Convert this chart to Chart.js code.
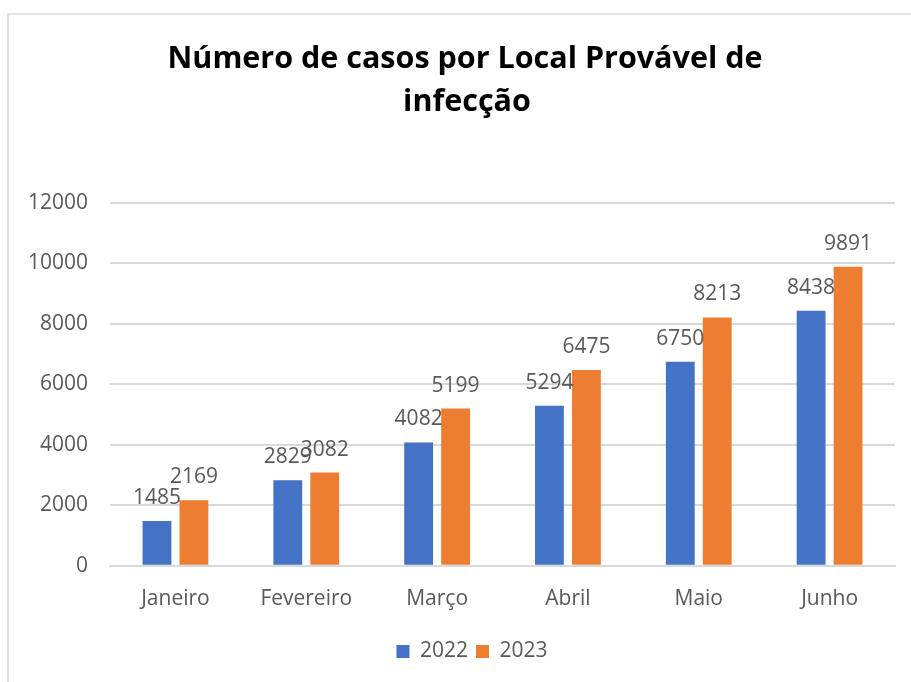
<!DOCTYPE html>
<html>
<head>
<meta charset="utf-8">
<script src="https://cdn.jsdelivr.net/npm/chart.js@4.4.0/dist/chart.umd.min.js"></script>
<style>
  html, body { margin: 0; padding: 0; background: #ffffff; }
  #wrap { position: absolute; left: 0; top: 0; width: 911px; height: 682px; }
  #frame { position: absolute; left: 7px; top: 13px; width: 904px; height: 669px;
           border-left: 2px solid #e3e3e3; border-top: 2px solid #e3e3e3; box-sizing: border-box; }
</style>
</head>
<body>
<div id="wrap"><canvas id="c" width="911" height="682"></canvas></div>
<div id="frame"></div>
<script>
const categories = ["Janeiro", "Fevereiro", "Março", "Abril", "Maio", "Junho"];
const values2022 = [1485, 2829, 4082, 5294, 6750, 8438];
const values2023 = [2169, 3082, 5199, 6475, 8213, 9891];
const seriesNames = ["2022", "2023"];
const yTicks = [0, 2000, 4000, 6000, 8000, 10000, 12000];
const titleLines = ["Número de casos por Local Provável de", "infecção"];

const FONT = "'Open Sans', 'Liberation Sans', sans-serif";
const GREY = "#595959";
const LEGEND_CENTER_X = 472;

const dataLabels = {
  id: 'dataLabels',
  afterDatasetsDraw(chart) {
    const ctx = chart.ctx;
    ctx.save();
    ctx.font = "21px " + FONT;
    ctx.fillStyle = GREY;
    ctx.textAlign = 'center';
    ctx.textBaseline = 'alphabetic';
    chart.data.datasets.forEach((ds, i) => {
      chart.getDatasetMeta(i).data.forEach((bar, j) => {
        ctx.fillText(String(ds.data[j]), bar.x, bar.y - 17);
      });
    });
    ctx.restore();
  }
};

const titleDraw = {
  id: 'titleDraw',
  afterDraw(chart) {
    const ctx = chart.ctx;
    ctx.save();
    ctx.font = "bold 30.5px " + FONT;
    ctx.fillStyle = '#000000';
    ctx.textAlign = 'center';
    ctx.textBaseline = 'alphabetic';
    ctx.fillText(titleLines[0], 465, 68);
    ctx.fillText(titleLines[1], 467, 111);
    ctx.restore();
  }
};

const legendShift = {
  id: 'legendShift',
  afterLayout(chart) {
    const lg = chart.legend;
    if (!lg) return;
    const d = LEGEND_CENTER_X - (lg.left + lg.right) / 2;
    lg.left += d; lg.right += d;
  }
};

new Chart(document.getElementById('c'), {
  type: 'bar',
  data: {
    labels: categories,
    datasets: [
      { label: seriesNames[0], data: values2022, backgroundColor: '#4472C4', borderWidth: 0 },
      { label: seriesNames[1], data: values2023, backgroundColor: '#ED7D31', borderWidth: 0 }
    ]
  },
  options: {
    responsive: false,
    animation: false,
    devicePixelRatio: 1,
    categoryPercentage: 0.565,
    barPercentage: 0.78,
    layout: { padding: { left: 6, right: 16, top: 203, bottom: 10 } },
    plugins: {
      title: { display: false },
      legend: {
        position: 'bottom',
        labels: {
          color: GREY,
          font: { family: FONT, size: 21 },
          boxWidth: 13, boxHeight: 13,
          padding: 8
        }
      },
      tooltip: { enabled: false }
    },
    scales: {
      x: {
        grid: { display: false, drawTicks: false },
        border: { display: true, color: '#d9d9d9', width: 2 },
        ticks: { color: GREY, font: { family: FONT, size: 21 }, padding: 21 }
      },
      y: {
        min: 0, max: 12000,
        afterBuildTicks(axis) { axis.ticks = yTicks.map(v => ({ value: v })); },
        grid: { color: '#d9d9d9', lineWidth: 2, drawTicks: false },
        border: { display: false },
        ticks: { color: GREY, font: { family: FONT, size: 21 }, padding: 22,
                 callback: (v) => String(v) }
      }
    }
  },
  plugins: [dataLabels, titleDraw, legendShift]
});
</script>
</body>
</html>
